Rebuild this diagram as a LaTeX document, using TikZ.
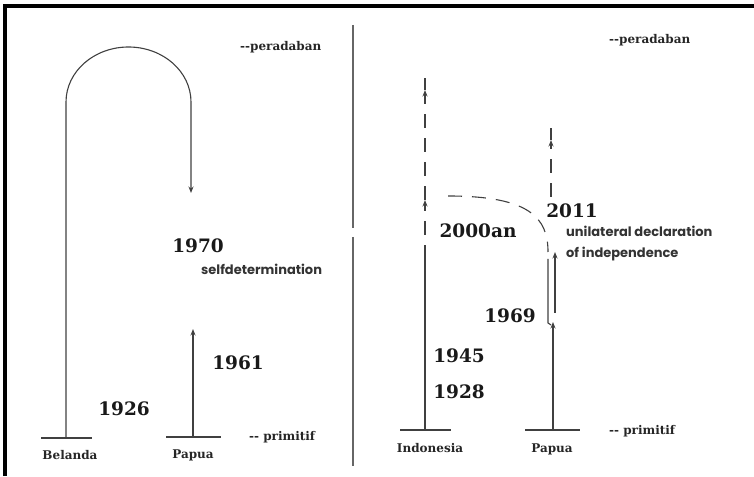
\documentclass[tikz,border=0pt]{standalone}
\usepackage{fontspec}
\setmainfont{DejaVu Serif}
\newfontfamily\geofont{Poppins}
\usetikzlibrary{arrows.meta}

\tikzset{
  tline/.style = {draw=black!75, line width=1.1pt},
  dline/.style = {tline, dash pattern=on 14pt off 10pt},
  year/.style  = {text=black!90, font=\bfseries\fontsize{18.5}{20}\selectfont, inner sep=0pt},
  lbl/.style   = {text=black!85, font=\bfseries\fontsize{12}{14}\selectfont, inner sep=0pt},
  note/.style  = {text=black!80, font=\geofont\bfseries\fontsize{13}{21}\selectfont, inner sep=0pt, align=left}
}

\begin{document}
\begin{tikzpicture}[x=1pt, y=1pt, >={Stealth[length=6.5pt,width=5pt]}]
\useasboundingbox (0,0) rectangle (754,476);
% frame, only top and left are seen
\draw[line width=4pt] (5.3,0) -- (5.3,469.5) -- (754,469.5);

% divider
\coordinate (div_t) at (353,451);
\coordinate (div_m1) at (353,248);
\coordinate (div_m2) at (353,239);
\coordinate (div_b) at (353,10);
\draw[tline, draw=black!60] (div_t) -- (div_m1) (div_m2) -- (div_b);

%% left half
\coordinate (bel_l) at (41,38);
\coordinate (bel_r) at (92,38);
\coordinate (bel_0) at (66,38);
\coordinate (bel_1) at (66,374);
\coordinate (bel_E) at (191,283);
\coordinate (pap_l) at (166,39);
\coordinate (pap_r) at (221,39);
\coordinate (pap_0) at (193,39);
\coordinate (pap_E) at (193,147);

\draw[tline] (bel_l) -- (bel_r);
\draw[tline, ->] (bel_0) -- (bel_1) arc[start angle=180, end angle=0, x radius=62.5, y radius=55] -- (bel_E);
\draw[tline] (pap_l) -- (pap_r);
\draw[tline, ->] (pap_0) -- (pap_E);

\node[lbl] (belanda) at (70,21) {Belanda};
\node[lbl] (papua_l) at (193,21) {Papua};
\node[lbl, anchor=west] (per_l) at (240,429) {-{}-peradaban};
\node[lbl, anchor=west] (prim_l) at (249,39) {-{}- primitif};
\node[year] (y1926) at (124,67) {1926};
\node[year] (y1961) at (238,113) {1961};
\node[year] (y1970) at (198,230) {1970};
\node[note, anchor=west] (selfdet) at (201,207) {selfdetermination};

%% right half
\coordinate (ind_l) at (400,46);
\coordinate (ind_r) at (451,46);
\coordinate (ind_0) at (425,46);
\coordinate (ind_1) at (425,217);
\coordinate (ind_2) at (425,276);
\coordinate (ind_3) at (425,386);
\coordinate (ind_E) at (425,398);
\coordinate (pr_l) at (525,46);
\coordinate (pr_r) at (580,46);
\coordinate (pr_0) at (553,46);
\coordinate (pr_1) at (553,154);
\coordinate (curve_0) at (448,280);
\coordinate (curve_E) at (548,224);
\coordinate (hook_t) at (548,217);
\coordinate (hook_b) at (548,153);
\coordinate (udi_0) at (555,163);
\coordinate (udi_E) at (555,224);
\coordinate (pr_2) at (551,279);
\coordinate (pr_3) at (551,336);
\coordinate (pr_E) at (551,348);

\draw[tline] (ind_l) -- (ind_r);
\draw[tline] (ind_0) -- (ind_1);
\draw[dline, ->] (ind_1) -- (ind_2);
\draw[dline, ->] (ind_2) -- (ind_3);
\draw[dline] (ind_3) -- (ind_E);
\draw[dline] (curve_0) .. controls (530,280) and (548,258) .. (curve_E);
\draw[tline] (pr_l) -- (pr_r);
\draw[tline, ->] (pr_0) -- (pr_1);
\draw[tline] (hook_t) -- (hook_b) -- ++(3,-2);
\draw[tline, ->] (udi_0) -- (udi_E);
\draw[dline, ->] (pr_2) -- (pr_3);
\draw[dline] (pr_3) -- (pr_E);

\node[lbl] (indonesia) at (430,28) {Indonesia};
\node[lbl] (papua_r) at (552,27) {Papua};
\node[lbl, anchor=west] (per_r) at (609,436) {-{}-peradaban};
\node[lbl, anchor=west] (prim_r) at (609,45) {-{}- primitif};
\node[year] (y2000) at (478,245) {2000an};
\node[year] (y2011) at (572,265) {2011};
\node[year] (y1969) at (510,160) {1969};
\node[year] (y1945) at (459,120) {1945};
\node[year] (y1928) at (459,84) {1928};
\node[note, anchor=north west] (udi) at (566,250) {unilateral declaration\\of independence};
\end{tikzpicture}
\end{document}
